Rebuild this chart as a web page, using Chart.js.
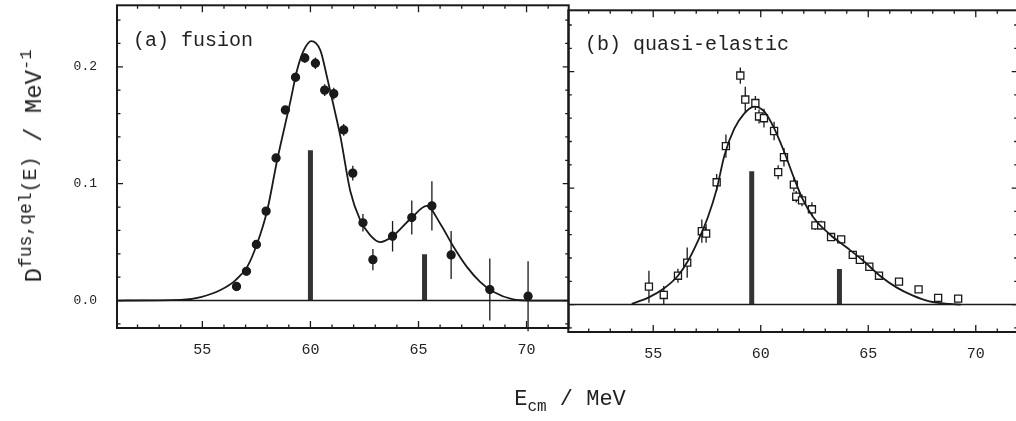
<!DOCTYPE html>
<html>
<head>
<meta charset="utf-8">
<script src="https://cdn.jsdelivr.net/npm/chart.js@4.4.0/dist/chart.umd.min.js"></script>
<style>
html, body { margin: 0; padding: 0; background: #fff; overflow: hidden; }
#wrap { position: relative; width: 1016px; height: 421px; overflow: hidden; }
canvas { position: absolute; }
#cFus { left: 0; top: 0; }
#cQel { left: 565px; top: 4px; }
.lbl { position: absolute; font-family: "Liberation Mono", monospace; color: #222; white-space: nowrap; line-height: 1; }
#ytitle { left: 32px; top: 166px; font-size: 24px; transform: translate(-50%, -50%) rotate(-90deg); }
#xtitle { left: 570px; top: 402px; font-size: 22px; transform: translate(-50%, -50%); }
</style>
</head>
<body>
<div id="wrap">
  <canvas id="cFus" width="574" height="421"></canvas>
  <canvas id="cQel" width="462" height="421"></canvas>
  <div class="lbl" style="left:133px;top:31px;font-size:20px;">(a) fusion</div>
  <div class="lbl" style="left:585px;top:35px;font-size:20px;">(b) quasi-elastic</div>
  <div class="lbl" id="ytitle">D<span style="font-size:18px;vertical-align:10px">fus,qel</span><span style="font-size:20px;vertical-align:5px">(E)</span> / MeV<span style="font-size:17px;vertical-align:10px">-1</span></div>
  <div class="lbl" id="xtitle">E<span style="font-size:16px;vertical-align:-6px">cm</span> / MeV</div>
</div>
<script>
// axis ranges and ticks
var xMin = 51.05, xMax = 71.95;
var yMin = -0.0235, yMax = 0.2526;
var xTicks = [55, 60, 65, 70];
var xMinor = [52, 53, 54, 56, 57, 58, 59, 61, 62, 63, 64, 66, 67, 68, 69, 71];
var yTicks = [0.0, 0.1, 0.2];
var yMinor = [-0.02, 0.02, 0.04, 0.06, 0.08, 0.12, 0.14, 0.16, 0.18, 0.22, 0.24];

// (a) fusion data
var fusE   = [56.58, 57.04, 57.50, 57.95, 58.41, 58.84, 59.31, 59.74, 60.23, 60.66, 61.08, 61.54, 61.96, 62.43, 62.89, 63.80, 64.69, 65.62, 66.51, 68.30, 70.07];
var fusD   = [0.012, 0.025, 0.048, 0.0765, 0.122, 0.163, 0.191, 0.2075, 0.203, 0.180, 0.177, 0.146, 0.109, 0.0665, 0.035, 0.055, 0.071, 0.081, 0.039, 0.0094, 0.0037];
var fusErr = [0.002, 0.002, 0.002, 0.003, 0.003, 0.003, 0.004, 0.004, 0.005, 0.005, 0.005, 0.005, 0.0064, 0.0075, 0.009, 0.013, 0.0146, 0.021, 0.0205, 0.0265, 0.030];
var fusCurveE = [51.05, 54.0, 54.93, 55.84, 56.54, 57.08, 57.54, 58.0, 58.46, 59.08, 59.38, 59.69, 60.04, 60.46, 60.77, 61.08, 61.39, 61.84, 62.30, 62.76, 63.22, 63.80, 64.69, 65.38, 66.0, 66.62, 67.23, 67.85, 68.46, 69.38, 70.2, 71.95];
var fusCurveD = [0, 0.0005, 0.003, 0.009, 0.0175, 0.029, 0.049, 0.077, 0.120, 0.171, 0.197, 0.214, 0.222, 0.214, 0.191, 0.166, 0.140, 0.094, 0.069, 0.056, 0.050, 0.055, 0.071, 0.081, 0.066, 0.046, 0.029, 0.016, 0.0075, 0.001, 0, 0];
var fusBarE = [60.0, 65.28];
var fusBarH = [0.1286, 0.0395];

// (b) quasi-elastic data
var qelE   = [54.80, 55.49, 56.15, 56.58, 57.26, 57.46, 57.95, 58.38, 59.05, 59.28, 59.75, 59.92, 60.15, 60.62, 60.81, 61.08, 61.54, 61.65, 61.92, 62.38, 62.54, 62.81, 63.27, 63.74, 64.28, 64.61, 65.05, 65.50, 66.43, 67.34, 68.25, 69.18];
var qelD   = [0.0154, 0.0083, 0.0248, 0.036, 0.063, 0.061, 0.105, 0.136, 0.1966, 0.176, 0.173, 0.1615, 0.160, 0.149, 0.1137, 0.1265, 0.103, 0.0926, 0.0895, 0.0818, 0.068, 0.068, 0.058, 0.056, 0.0427, 0.0385, 0.0325, 0.0248, 0.0197, 0.0131, 0.0057, 0.0051];
var qelErr = [0.0137, 0.0077, 0.006, 0.013, 0.010, 0.008, 0.007, 0.010, 0.007, 0.011, 0.006, 0.006, 0.008, 0.008, 0.006, 0.008, 0.006, 0.005, 0.005, 0.006, 0.004, 0.004, 0, 0.003, 0, 0, 0, 0, 0, 0, 0, 0];
var qelCurveE = [54.0, 54.77, 55.46, 56.15, 56.62, 57.08, 57.54, 57.95, 58.31, 58.77, 59.23, 59.69, 60.15, 60.62, 61.08, 61.54, 61.92, 62.46, 63.23, 64.0, 64.77, 65.54, 66.31, 67.08, 67.85, 68.77, 69.3];
var qelCurveD = [0.0006, 0.006, 0.0134, 0.0248, 0.0376, 0.0547, 0.075, 0.099, 0.128, 0.151, 0.164, 0.170, 0.166, 0.1515, 0.1316, 0.109, 0.0917, 0.0746, 0.060, 0.049, 0.0376, 0.0248, 0.0148, 0.0077, 0.0028, 0.0006, 0];
var qelBarE = [59.58, 63.66];
var qelBarH = [0.1145, 0.0305];

var ink = '#1a1a1a';

function pts(xs, ys) {
  return xs.map(function (x, i) { return { x: x, y: ys[i] }; });
}
function barSegs(xs, hs) {
  var d = [];
  xs.forEach(function (x, i) {
    d.push({ x: x, y: 0 }, { x: x, y: hs[i] }, { x: x, y: null });
  });
  return d;
}

// inward ticks, frame and error bars
var framePlugin = {
  id: 'frame',
  beforeDatasetsDraw: function (chart) {
    var ctx = chart.ctx, x = chart.scales.x, y = chart.scales.y;
    var err = chart.options.plugins.frame.err;
    var ds = chart.data.datasets[chart.data.datasets.length - 1].data;
    ctx.save();
    ctx.strokeStyle = ink;
    ctx.lineWidth = 1.3;
    ctx.beginPath();
    ds.forEach(function (p, i) {
      if (!err[i]) return;
      var px = x.getPixelForValue(p.x);
      ctx.moveTo(px, y.getPixelForValue(p.y - err[i]));
      ctx.lineTo(px, y.getPixelForValue(p.y + err[i]));
    });
    ctx.stroke();
    ctx.restore();
  },
  afterDatasetsDraw: function (chart) {
    var ctx = chart.ctx, a = chart.chartArea, x = chart.scales.x, y = chart.scales.y;
    ctx.save();
    ctx.strokeStyle = ink;
    ctx.lineWidth = 1.3;
    ctx.beginPath();
    function xt(list, len) {
      list.forEach(function (v) {
        var px = x.getPixelForValue(v);
        ctx.moveTo(px, a.bottom); ctx.lineTo(px, a.bottom - len);
        ctx.moveTo(px, a.top); ctx.lineTo(px, a.top + len);
      });
    }
    function yt(list, len) {
      list.forEach(function (v) {
        var py = y.getPixelForValue(v);
        ctx.moveTo(a.left, py); ctx.lineTo(a.left + len, py);
        ctx.moveTo(a.right, py); ctx.lineTo(a.right - len, py);
      });
    }
    xt(xTicks, 7); xt(xMinor, 3.5);
    yt(yTicks, 6); yt(yMinor, 3.5);
    ctx.stroke();
    ctx.lineWidth = 2;
    ctx.strokeRect(a.left, a.top, a.right - a.left, a.bottom - a.top);
    ctx.restore();
  }
};

function makeChart(id, opt) {
  var datasets = [
    { type: 'line', data: [{ x: xMin, y: 0 }, { x: xMax, y: 0 }], borderColor: ink, borderWidth: 1.5, pointRadius: 0 },
    { type: 'line', data: pts(opt.curveE, opt.curveD), borderColor: ink, borderWidth: 1.8, pointRadius: 0, cubicInterpolationMode: 'monotone' },
    { type: 'line', data: barSegs(opt.barE, opt.barH), borderColor: '#333', borderWidth: 5, borderCapStyle: 'butt', pointRadius: 0, spanGaps: false },
    { type: 'scatter', data: pts(opt.E, opt.D), pointStyle: opt.pointStyle, pointRadius: opt.pointRadius,
      backgroundColor: opt.fill, borderColor: ink, borderWidth: 1.3 }
  ];
  return new Chart(document.getElementById(id), {
    type: 'scatter',
    data: { datasets: datasets },
    plugins: [framePlugin],
    options: {
      responsive: false,
      animation: false,
      layout: { padding: opt.padding },
      plugins: { legend: { display: false }, tooltip: { enabled: false }, frame: { err: opt.err } },
      scales: {
        x: {
          type: 'linear', min: xMin, max: xMax,
          afterBuildTicks: function (s) { s.ticks = xTicks.map(function (v) { return { value: v }; }); },
          afterFit: function (s) { s.height = 93; s.paddingLeft = 0; s.paddingRight = 0; },
          grid: { display: false, drawTicks: false },
          border: { display: false },
          ticks: { padding: 13, color: '#222', autoSkip: false, maxRotation: 0,
                   font: { family: 'Liberation Mono', size: 15 },
                   callback: function (v) { return String(v); } }
        },
        y: {
          type: 'linear', min: yMin, max: yMax, display: opt.showY,
          afterBuildTicks: function (s) { s.ticks = yTicks.map(function (v) { return { value: v }; }); },
          afterFit: function (s) { s.width = opt.showY ? 117 : 0; s.paddingTop = 0; s.paddingBottom = 0; },
          grid: { display: false, drawTicks: false },
          border: { display: false },
          ticks: { padding: 20, color: '#222', font: { family: 'Liberation Mono', size: 13 },
                   callback: function (v) { return v.toFixed(1); } }
        }
      }
    }
  });
}

var fusChart = makeChart('cFus', {
  E: fusE, D: fusD, err: fusErr, curveE: fusCurveE, curveD: fusCurveD, barE: fusBarE, barH: fusBarH,
  pointStyle: 'circle', pointRadius: 4, fill: ink, showY: true,
  padding: { top: 5, right: 3, left: 0, bottom: 0 }
});
var qelChart = makeChart('cQel', {
  E: qelE, D: qelD, err: qelErr, curveE: qelCurveE, curveD: qelCurveD, barE: qelBarE, barH: qelBarH,
  pointStyle: 'rect', pointRadius: 5, fill: '#fff', showY: false,
  padding: { top: 5, right: 4, left: 4, bottom: 0 }
});

// line the right panel's left frame up with the left panel's right frame
document.getElementById('cQel').style.left =
  Math.round(fusChart.chartArea.right - qelChart.chartArea.left) + 'px';
</script>
</body>
</html>
